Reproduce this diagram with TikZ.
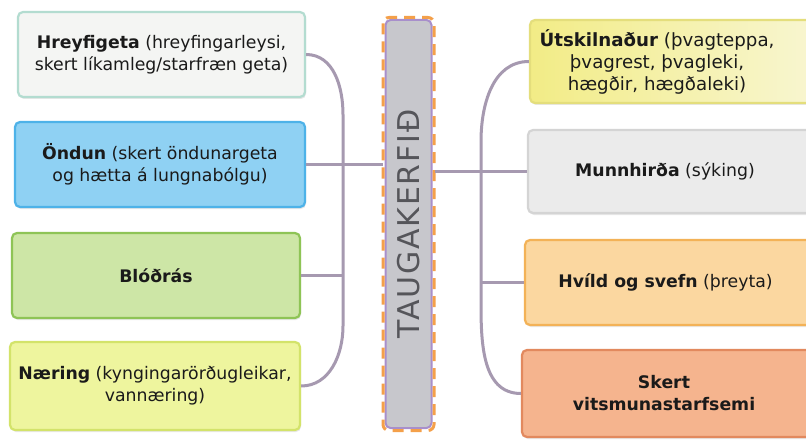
\documentclass[tikz,border=0pt]{standalone}
\usepackage{fontspec}
\usepackage{graphicx}
\usetikzlibrary{calc,shadows}
\setmainfont{DejaVu Sans}
\definecolor{connc}{HTML}{A699B0}
\definecolor{hreyF}{HTML}{F4F5F3}\definecolor{hreyD}{HTML}{B3DCD0}
\definecolor{ondF}{HTML}{8FD1F3}\definecolor{ondD}{HTML}{4DB2E8}
\definecolor{blodF}{HTML}{CDE6A6}\definecolor{blodD}{HTML}{8EC456}
\definecolor{naeF}{HTML}{EEF59E}\definecolor{naeD}{HTML}{D3E36A}
\definecolor{utsF}{HTML}{F2EC86}\definecolor{utsR}{HTML}{F8F6D2}\definecolor{utsD}{HTML}{E4DE7C}
\definecolor{munF}{HTML}{EBEBEB}\definecolor{munD}{HTML}{D4D4D4}
\definecolor{hviF}{HTML}{FBD7A0}\definecolor{hviD}{HTML}{F3B257}
\definecolor{skeF}{HTML}{F5B48E}\definecolor{skeD}{HTML}{E2895E}
\definecolor{cenF}{HTML}{C7C7CC}\definecolor{cenP}{HTML}{A88FCB}\definecolor{cenO}{HTML}{F4A04A}
\definecolor{txtc}{HTML}{1A1A1A}
\begin{document}
\begin{tikzpicture}[x=1pt,y=-1pt,
  box/.style={draw, line width=2.2pt, rounded corners=5pt, align=center,
    text=txtc, font=\fontsize{17.3}{22}\selectfont, inner sep=0pt,
    drop shadow={opacity=0.18, shadow xshift=1pt, shadow yshift=-2pt}},
  conn/.style={draw=connc, line width=3pt}]
\useasboundingbox (0,0) rectangle (806,441);
\fill[white] (0,0) rectangle (806,441);
% left boxes
\node[box, fill=hreyF, draw=hreyD, minimum width=287pt, minimum height=85pt] (hrey) at (161.5,54.5)
  {\textbf{Hreyfigeta} (hreyfingarleysi,\\ skert líkamleg/starfræn geta)};
\node[box, fill=ondF, draw=ondD, minimum width=290pt, minimum height=85pt] (ond) at (160,164.5)
  {\textbf{Öndun} (skert öndunargeta\\ og hætta á lungnabólgu)};
\node[box, fill=blodF, draw=blodD, minimum width=288pt, minimum height=85pt] (blod) at (156,275.5)
  {\textbf{Blóðrás}};
\node[box, fill=naeF, draw=naeD, minimum width=290pt, minimum height=88pt] (nae) at (155,386)
  {\textbf{Næring} (kyngingarörðugleikar,\\ vannæring)};
% right boxes
\node[box, left color=utsF, right color=utsR, draw=utsD, minimum width=290pt, minimum height=83pt,
      font=\fontsize{18.2}{22}\selectfont] (uts) at (675,61.5)
  {\hspace*{-36pt}\textbf{Útskilnaður} (þvagteppa,\\ \hspace*{-36pt}þvagrest, þvagleki,\\ \hspace*{-36pt}hægðir, hægðaleki)};
\node[box, fill=munF, draw=munD, minimum width=292pt, minimum height=83pt] (mun) at (674,171.5)
  {\hspace*{-18pt}\textbf{Munnhirða} (sýking)};
\node[box, fill=hviF, draw=hviD, minimum width=295pt, minimum height=85pt] (hvi) at (672.5,282.5)
  {\hspace*{-14pt}\textbf{Hvíld og svefn} (þreyta)};
\node[box, fill=skeF, draw=skeD, minimum width=298pt, minimum height=87pt] (ske) at (671,393.5)
  {\hspace*{-14pt}\textbf{Skert}\\ \hspace*{-14pt}\textbf{vitsmunastarfsemi}};
% center
\node[fill=cenF, draw=cenP, line width=2pt, rounded corners=5pt, minimum width=46pt, minimum height=408pt, inner sep=0pt] (tau) at (408.5,224)
  {\rotatebox{90}{\fontsize{30}{30}\selectfont\addfontfeatures{LetterSpace=6}\color[HTML]{55555A}TAUGAKERFIÐ}};
\draw[cenO, line width=3pt, rounded corners=6pt, dash pattern=on 11pt off 7pt]
  ([xshift=-1.5pt,yshift=1.5pt]tau.north west) rectangle ([xshift=1.5pt,yshift=-1.5pt]tau.south east);
% connectors
\coordinate (lv) at (343,0);
\coordinate (rv) at (481,0);
\draw[conn] (hrey.east) to[out=0,in=90] ($(lv |- hrey.east)+(0,60)$)
  -- ($(lv |- nae.east)+(0,-60)$) to[out=-90,in=0] (nae.east);
\draw[conn] (blod.east) -- (lv |- blod.east);
\draw[conn] (ond.east) -- ([xshift=-2pt]tau.west |- ond.east);
\draw[conn] (uts.west) to[out=180,in=90] ($(rv |- uts.west)+(0,80)$)
  -- ($(rv |- ske.west)+(0,-95)$) to[out=-90,in=180] (ske.west);
\draw[conn] (hvi.west) -- (rv |- hvi.west);
\draw[conn] (mun.west) -- ([xshift=2pt]tau.east |- mun.west);
\end{tikzpicture}
\end{document}
